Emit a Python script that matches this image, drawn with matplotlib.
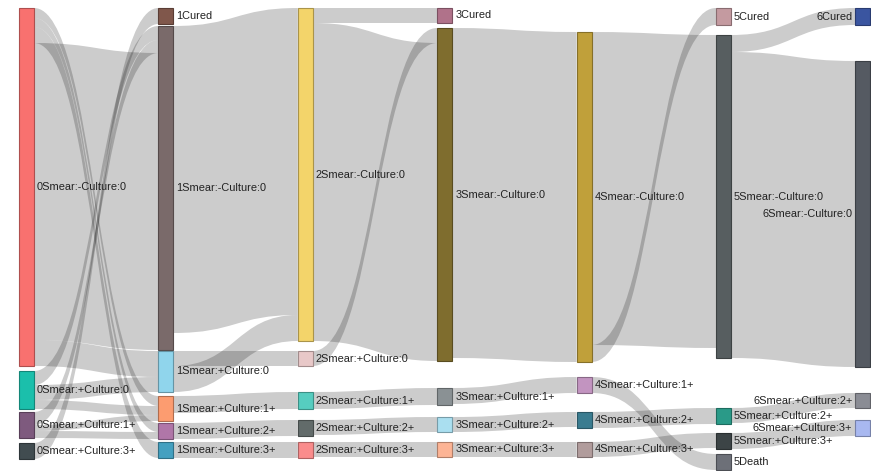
import matplotlib.pyplot as plt
import matplotlib.colors as mcolors
from matplotlib.path import Path
from matplotlib.patches import PathPatch, Rectangle

plt.rcParams['font.family'] = ['Liberation Sans', 'DejaVu Sans']

# nodes, one list per month (column), top to bottom
columns = [
    ["0Smear:-Culture:0", "0Smear:+Culture:0", "0Smear:+Culture:1+", "0Smear:+Culture:3+"],
    ["1Cured", "1Smear:-Culture:0", "1Smear:+Culture:0", "1Smear:+Culture:1+",
     "1Smear:+Culture:2+", "1Smear:+Culture:3+"],
    ["2Smear:-Culture:0", "2Smear:+Culture:0", "2Smear:+Culture:1+",
     "2Smear:+Culture:2+", "2Smear:+Culture:3+"],
    ["3Cured", "3Smear:-Culture:0", "3Smear:+Culture:1+", "3Smear:+Culture:2+",
     "3Smear:+Culture:3+"],
    ["4Smear:-Culture:0", "4Smear:+Culture:1+", "4Smear:+Culture:2+", "4Smear:+Culture:3+"],
    ["5Cured", "5Smear:-Culture:0", "5Smear:+Culture:2+", "5Smear:+Culture:3+", "5Death"],
    ["6Cured", "6Smear:-Culture:0", "6Smear:+Culture:2+", "6Smear:+Culture:3+"],
]

# links (patients moving between states)
link_source = [
    "0Smear:+Culture:3+", "0Smear:+Culture:0", "0Smear:+Culture:1+",
    "0Smear:-Culture:0", "0Smear:-Culture:0", "0Smear:-Culture:0",
    "0Smear:-Culture:0", "0Smear:-Culture:0", "0Smear:+Culture:0",
    "0Smear:+Culture:0", "0Smear:+Culture:1+", "0Smear:+Culture:1+",
    "1Smear:-Culture:0", "1Smear:+Culture:0", "1Smear:+Culture:0",
    "1Smear:+Culture:1+", "1Smear:+Culture:2+", "1Smear:+Culture:3+",
    "2Smear:-Culture:0", "2Smear:+Culture:0", "2Smear:-Culture:0",
    "2Smear:+Culture:1+", "2Smear:+Culture:2+", "2Smear:+Culture:3+",
    "3Smear:-Culture:0", "3Smear:+Culture:1+", "3Smear:+Culture:2+", "3Smear:+Culture:3+",
    "4Smear:-Culture:0", "4Smear:-Culture:0", "4Smear:+Culture:1+",
    "4Smear:+Culture:2+", "4Smear:+Culture:3+",
    "5Smear:-Culture:0", "5Smear:-Culture:0", "5Smear:+Culture:2+", "5Smear:+Culture:3+",
]
link_target = [
    "1Cured", "1Smear:-Culture:0", "1Smear:-Culture:0",
    "1Smear:+Culture:1+", "1Smear:+Culture:2+", "1Smear:+Culture:3+",
    "1Smear:-Culture:0", "1Smear:+Culture:0", "1Smear:+Culture:0",
    "1Smear:+Culture:1+", "1Smear:+Culture:1+", "1Smear:+Culture:2+",
    "2Smear:-Culture:0", "2Smear:+Culture:0", "2Smear:-Culture:0",
    "2Smear:+Culture:1+", "2Smear:+Culture:2+", "2Smear:+Culture:3+",
    "3Cured", "3Smear:-Culture:0", "3Smear:-Culture:0",
    "3Smear:+Culture:1+", "3Smear:+Culture:2+", "3Smear:+Culture:3+",
    "4Smear:-Culture:0", "4Smear:+Culture:1+", "4Smear:+Culture:2+", "4Smear:+Culture:3+",
    "5Smear:-Culture:0", "5Cured", "5Death",
    "5Smear:+Culture:2+", "5Smear:+Culture:3+",
    "6Cured", "6Smear:-Culture:0", "6Smear:+Culture:2+", "6Smear:+Culture:3+",
]
link_value = [
    16, 14, 13,
    10, 9, 16,
    297, 26, 15,
    9, 6, 7,
    307, 15, 26,
    17, 16, 16,
    15, 15, 318,
    17, 15, 15,
    330, 16, 15, 15,
    313, 17, 16,
    16, 15,
    17, 306, 15, 16,
]

node_colors = {
    "0Smear:-Culture:0": "#f8716f", "0Smear:+Culture:0": "#1bbfab",
    "0Smear:+Culture:1+": "#7e5a7e", "0Smear:+Culture:3+": "#414c50",
    "1Cured": "#80574b", "1Smear:-Culture:0": "#7a6a6a", "1Smear:+Culture:0": "#90d5ec",
    "1Smear:+Culture:1+": "#fc9c70", "1Smear:+Culture:2+": "#b076a8",
    "1Smear:+Culture:3+": "#44a0c0",
    "2Smear:-Culture:0": "#f3d46a", "2Smear:+Culture:0": "#e8c8c8",
    "2Smear:+Culture:1+": "#56cdc0", "2Smear:+Culture:2+": "#626b6a",
    "2Smear:+Culture:3+": "#fa8c8c",
    "3Cured": "#b0728a", "3Smear:-Culture:0": "#7f6d2e", "3Smear:+Culture:1+": "#8a9194",
    "3Smear:+Culture:2+": "#aadff0", "3Smear:+Culture:3+": "#fdb495",
    "4Smear:-Culture:0": "#c0a03a", "4Smear:+Culture:1+": "#c294c0",
    "4Smear:+Culture:2+": "#3a7c90", "4Smear:+Culture:3+": "#b19c9c",
    "5Cured": "#c49aa0", "5Smear:-Culture:0": "#575e60", "5Smear:+Culture:2+": "#2a9a88",
    "5Smear:+Culture:3+": "#3c4446", "5Death": "#6d7078",
    "6Cured": "#3a55a0", "6Smear:-Culture:0": "#555a62", "6Smear:+Culture:2+": "#8a8c94",
    "6Smear:+Culture:3+": "#a8b8f0",
}

# layout: space above each node (same units as values)
column_gaps = [
    [8, 5, 3, 5],
    [8, 2, 1, 4, 2, 3],
    [8, 10, 26, 11, 6],
    [8, 5, 27, 12, 10],
    [32, 15, 19, 14],
    [8, 10, 50, 9, 5],
    [8, 36, 26, 12],
]
x_left = 19
x_step = 139.4
node_w = 15

# node sizes = max(in, out)
flow_in = {}
flow_out = {}
for s, t, v in zip(link_source, link_target, link_value):
    flow_out[s] = flow_out.get(s, 0) + v
    flow_in[t] = flow_in.get(t, 0) + v

node_x = {}
node_top = {}
node_h = {}
for ci, (names, gaps) in enumerate(zip(columns, column_gaps)):
    y = 0
    for name, gap in zip(names, gaps):
        y += gap
        h = max(flow_in.get(name, 0), flow_out.get(name, 0))
        node_x[name] = x_left + ci * x_step
        node_top[name] = y
        node_h[name] = h
        y += h

fig = plt.figure(figsize=(8.71, 4.71), dpi=100)
ax = fig.add_axes([0, 0, 1, 1])
ax.set_xlim(0, 871)
ax.set_ylim(471, 0)
ax.axis("off")

# links
out_off = dict(node_top)
in_off = dict(node_top)
for s, t, v in zip(link_source, link_target, link_value):
    x0 = node_x[s] + node_w
    x1 = node_x[t]
    xm = (x0 + x1) / 2
    y0 = out_off[s]
    y1 = in_off[t]
    out_off[s] += v
    in_off[t] += v
    verts = [(x0, y0), (xm, y0), (xm, y1), (x1, y1),
             (x1, y1 + v), (xm, y1 + v), (xm, y0 + v), (x0, y0 + v), (x0, y0)]
    codes = [Path.MOVETO, Path.CURVE4, Path.CURVE4, Path.CURVE4,
             Path.LINETO, Path.CURVE4, Path.CURVE4, Path.CURVE4, Path.CLOSEPOLY]
    ax.add_patch(PathPatch(Path(verts, codes), facecolor="black", alpha=0.2,
                           edgecolor="none", zorder=1))

# nodes and labels
last = set(columns[-1])
for name in node_x:
    c = node_colors[name]
    edge = [v * 0.7 for v in mcolors.to_rgb(c)]
    ax.add_patch(Rectangle((node_x[name], node_top[name]), node_w, node_h[name],
                           facecolor=c, edgecolor=edge, linewidth=0.8, zorder=2))
    yc = node_top[name] + node_h[name] / 2
    if name in last:
        ax.text(node_x[name] - 3, yc, name, ha="right", va="center",
                fontsize=7.9, color="#222222", zorder=3)
    else:
        ax.text(node_x[name] + node_w + 3, yc, name, ha="left", va="center",
                fontsize=7.9, color="#222222", zorder=3)

fig.savefig("out.png", dpi=100)
